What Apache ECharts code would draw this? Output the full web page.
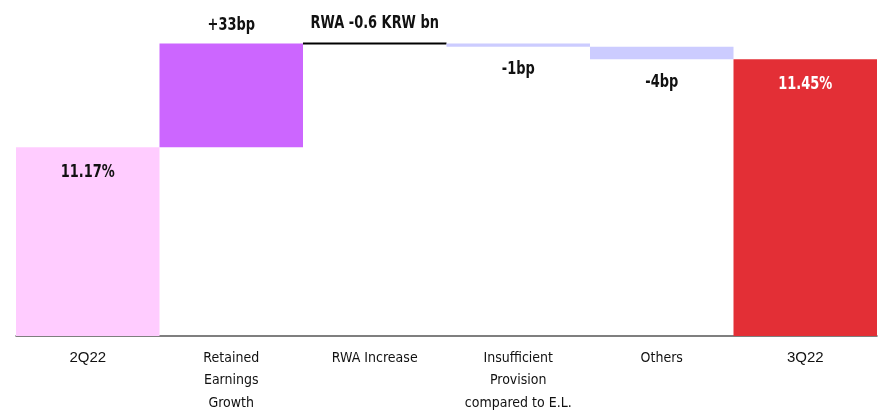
<!DOCTYPE html>
<html>
<head>
<meta charset="utf-8">
<script src="https://cdn.jsdelivr.net/npm/echarts@6/dist/echarts.min.js"></script>
<style>
  html, body { margin: 0; padding: 0; background: #fff; }
  #chart { width: 879px; height: 412px; }
</style>
</head>
<body>
<div id="chart"></div>
<script>
// Capital ratio bridge, 2Q22 -> 3Q22
const categories = ['2Q22', 'Retained\nEarnings\nGrowth', 'RWA Increase', 'Insufficient\nProvision\ncompared to E.L.', 'Others', '3Q22'];
const startRatio = 11.17;          // %
const changesBp = [33, 0, -1, -4]; // basis points
const endRatio = 11.45;            // %
const valueLabels = ['11.17%', '+33bp', 'RWA -0.6 KRW bn', '-1bp', '-4bp', '11.45%'];
const barColors = ['#FFCCFF', '#CC66FF', '#000000', '#CCCCFF', '#CCCCFF', '#E32F36'];

const NARROW = '"DejaVu Sans Condensed", sans-serif';

// Build [index, low, high, kind] rows for the waterfall
const rows = [];
rows.push([0, 0, startRatio, 'total']);
let level = startRatio;
changesBp.forEach(function (bp, i) {
  const next = +(level + bp / 100).toFixed(4);
  rows.push([i + 1, Math.min(level, next), Math.max(level, next), bp > 0 ? 'up' : (bp < 0 ? 'down' : 'flat')]);
  level = next;
});
rows.push([categories.length - 1, 0, endRatio, 'total']);

const chart = echarts.init(document.getElementById('chart'));

// Condensed bold value label centred at (cx, cy)
function valueText(text, cx, cy, fill) {
  return {
    type: 'text',
    x: cx, y: cy,
    scaleX: 0.8,
    style: {
      text: text, x: 0, y: 0, fill: fill,
      fontFamily: NARROW, fontWeight: 'bold', fontSize: 18,
      align: 'center', verticalAlign: 'middle'
    }
  };
}

function renderItem(params, api) {
  const idx = api.value(0);
  const low = api.value(1);
  const high = api.value(2);
  const kind = rows[params.dataIndex][3];
  const band = api.size([1, 0])[0];
  const cs = params.coordSys;
  const pTop = api.coord([idx, high]);
  const baseY = (kind === 'total') ? cs.y + cs.height : api.coord([idx, low])[1];
  const x = pTop[0] - band / 2;
  const children = [];
  const text = valueLabels[params.dataIndex];

  if (kind === 'flat') {
    children.push({
      type: 'line',
      shape: { x1: x, y1: pTop[1], x2: x + band, y2: pTop[1] },
      style: { stroke: barColors[params.dataIndex], lineWidth: 2 }
    });
    children.push(valueText(text, pTop[0], pTop[1] - 20, '#111'));
  } else {
    children.push({
      type: 'rect',
      shape: { x: x, y: pTop[1], width: band, height: Math.max(1, baseY - pTop[1]) },
      style: { fill: barColors[params.dataIndex] }
    });
    let ty, fill = '#111';
    if (kind === 'total') {
      ty = pTop[1] + 25;
      if (params.dataIndex === rows.length - 1) fill = '#fff';
    } else if (kind === 'up') {
      ty = pTop[1] - 18;
    } else {
      ty = baseY + 23;
    }
    children.push(valueText(text, pTop[0], ty, fill));
  }
  return { type: 'group', children: children };
}

chart.setOption({
  animation: false,
  grid: { left: 16, right: 2, top: 20, bottom: 76, outerBoundsMode: 'none', containLabel: false },
  xAxis: {
    type: 'category',
    data: categories,
    axisTick: { show: false },
    axisLine: { lineStyle: { color: '#555', width: 1.5 } },
    axisLabel: {
      interval: 0,
      margin: 11,
      lineHeight: 22.5,
      fontSize: 14,
      color: '#111',
      fontFamily: NARROW,
      verticalAlign: 'top',
      formatter: function (v) {
        return (v === '2Q22' || v === '3Q22') ? '{q|' + v + '}' : v;
      },
      rich: {
        q: { fontFamily: '"Liberation Sans", Arial, sans-serif', fontSize: 15, color: '#111' }
      }
    }
  },
  yAxis: {
    type: 'value',
    min: 10.57,
    max: 11.575,
    show: false,
    splitLine: { show: false }
  },
  series: [{
    type: 'custom',
    renderItem: renderItem,
    encode: { x: 0, y: [1, 2] },
    data: rows.map(function (r) { return [r[0], r[1], r[2]]; }),
    z: 1
  }]
});
</script>
</body>
</html>
